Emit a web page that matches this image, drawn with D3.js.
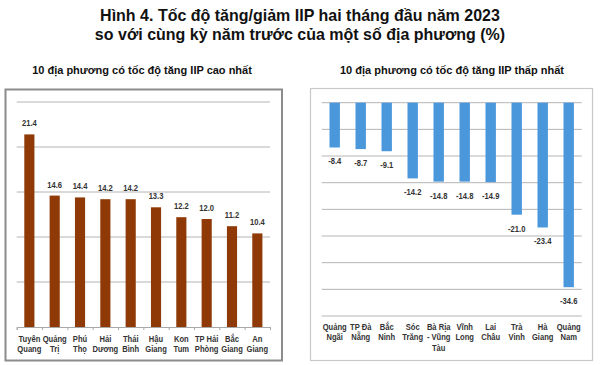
<!DOCTYPE html>
<html><head><meta charset="utf-8">
<script src="https://cdn.jsdelivr.net/npm/d3@7/dist/d3.min.js"></script>
<style>
body{margin:0;background:#fff;}
svg{display:block;}
text{font-family:"Liberation Sans",Arial,sans-serif;}
</style></head>
<body>
<svg id="c" width="600" height="365"></svg>
<script>
const titleLines = ["Hình 4. Tốc độ tăng/giảm IIP hai tháng đầu năm 2023", "so với cùng kỳ năm trước của một số địa phương (%)"];
const leftTitle = "10 địa phương có tốc độ tăng IIP cao nhất";
const rightTitle = "10 địa phương có tốc độ tăng IIP thấp nhất";
const leftCategories = [["Tuyên","Quang"],["Quảng","Trị"],["Phú","Thọ"],["Hải","Dương"],["Thái","Bình"],["Hậu","Giang"],["Kon","Tum"],["TP Hải","Phòng"],["Bắc","Giang"],["An","Giang"]];
const leftValues = [21.4,14.6,14.4,14.2,14.2,13.3,12.2,12.0,11.2,10.4];
const leftTicks = [0,5,10,15,20,25];
const rightCategories = [["Quảng","Ngãi"],["TP Đà","Nẵng"],["Bắc","Ninh"],["Sóc","Trăng"],["Bà Rịa","- Vũng","Tàu"],["Vĩnh","Long"],["Lai","Châu"],["Trà","Vinh"],["Hà","Giang"],["Quảng","Nam"]];
const rightValues = [-8.4,-8.7,-9.1,-14.2,-14.8,-14.8,-14.9,-21.0,-23.4,-34.6];
const rightTicks = [0,-5,-10,-15,-20,-25,-30,-35,-40];

const NARROW = 0.8;
const svg = d3.select("#c");
// Title
svg.selectAll("text.title").data(titleLines).join("text").attr("class","title")
  .attr("transform",(d,i)=>`translate(300,${21+i*18.5}) scale(0.97,1)`).attr("text-anchor","middle")
  .attr("font-size",16.5).attr("font-weight","bold").attr("fill","#111").text(d=>d);
svg.append("text").attr("x",142).attr("y",74).attr("text-anchor","middle")
  .attr("font-size",11).attr("font-weight","bold").attr("fill","#111").text(leftTitle);
svg.append("text").attr("x",452).attr("y",74).attr("text-anchor","middle")
  .attr("font-size",11).attr("font-weight","bold").attr("fill","#111").text(rightTitle);

// Panels
svg.append("rect").attr("x",5.5).attr("y",89.5).attr("width",276.5).attr("height",271)
  .attr("fill","#fff").attr("stroke","#8c8c8c").attr("stroke-width",2);
svg.append("rect").attr("x",310.5).attr("y",88.5).attr("width",282).attr("height",272)
  .attr("fill","#fff").attr("stroke","#c8c8c8").attr("stroke-width",1.2);

function narrowText(g, x, y, lines, lh){
  const t = g.append("text").attr("transform",`translate(${x},${y}) scale(${NARROW},1)`)
    .attr("text-anchor","middle").attr("font-size",9.5).attr("font-weight","bold").attr("fill","#333");
  lines.forEach((s,j)=>t.append("tspan").attr("x",0).attr("y",j*lh).text(s));
  return t;
}

// Left chart
const lx = d3.scaleBand().domain(d3.range(10)).range([16.7,270]).paddingInner(0.6).paddingOuter(0.3);
const ly = d3.scaleLinear().domain([0,25]).range([327,102]);
const lg = svg.append("g");
lg.selectAll("line.grid").data(leftTicks.slice(1)).join("line")
  .attr("x1",16.7).attr("x2",270).attr("y1",d=>ly(d)).attr("y2",d=>ly(d))
  .attr("stroke","#b4b4b4").attr("stroke-width",1);
lg.selectAll("rect").data(leftValues).join("rect")
  .attr("x",(d,i)=>lx(i)).attr("width",lx.bandwidth())
  .attr("y",d=>ly(d)).attr("height",d=>ly(0)-ly(d)).attr("fill","#8f3a06");
const lAxis = d3.axisBottom(d3.scaleLinear().domain([0,10]).range([16.7,270])).ticks(10).tickSize(3).tickFormat("");
const lax = lg.append("g").attr("transform",`translate(0,${ly(0)})`).call(lAxis);
lax.selectAll("path,line").attr("stroke","#a8a8a8");
leftValues.forEach((d,i)=>narrowText(lg, lx(i)+lx.bandwidth()/2, ly(d)-8, [d.toFixed(1)], 0));
leftCategories.forEach((lines,i)=>narrowText(lg, lx(i)+lx.bandwidth()/2, 342, lines, 10.5));

// Right chart
const rx = d3.scaleBand().domain(d3.range(10)).range([321.7,581.7]).paddingInner(0.6).paddingOuter(0.3);
const ry = d3.scaleLinear().domain([-40,0]).range([316,102.7]);
const rg = svg.append("g");
rg.selectAll("line.grid").data(rightTicks).join("line")
  .attr("x1",321.7).attr("x2",581.7).attr("y1",d=>ry(d)).attr("y2",d=>ry(d))
  .attr("stroke","#b4b4b4").attr("stroke-width",1);
rg.selectAll("rect").data(rightValues).join("rect")
  .attr("x",(d,i)=>rx(i)).attr("width",rx.bandwidth())
  .attr("y",ry(0)).attr("height",d=>ry(d)-ry(0)).attr("fill","#4a97dc");
rightValues.forEach((d,i)=>narrowText(rg, rx(i)+rx.bandwidth()/2, ry(d)+17, [d.toFixed(1)], 0));
rightCategories.forEach((lines,i)=>narrowText(rg, rx(i)+rx.bandwidth()/2, 330, lines, 10.3));
</script>
</body></html>
